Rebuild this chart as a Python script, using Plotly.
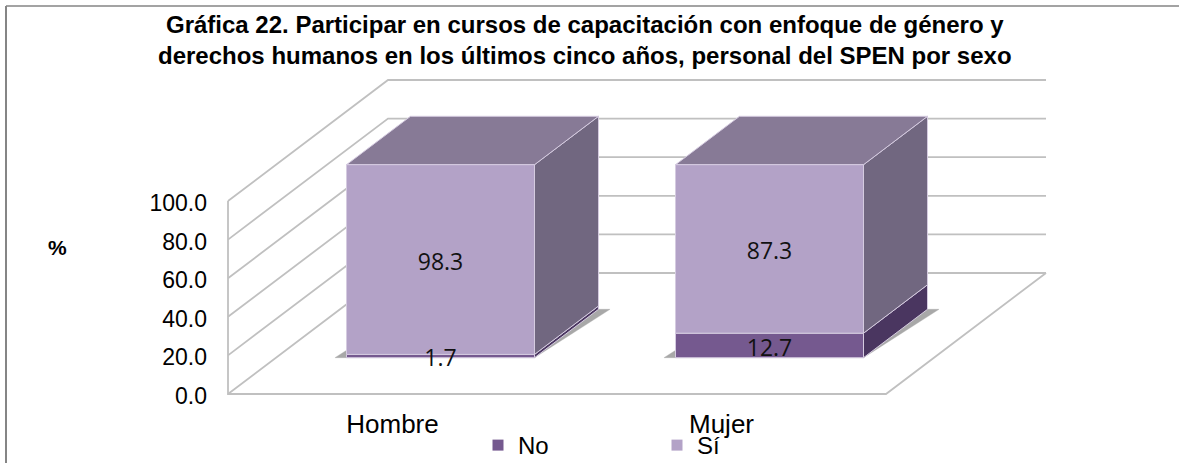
import plotly.graph_objects as go

categories = ["Hombre", "Mujer"]
no_values = [1.7, 12.7]
si_values = [98.3, 87.3]
axis_ticks = [0, 20, 40, 60, 80, 100]
axis_labels = ["0.0", "20.0", "40.0", "60.0", "80.0", "100.0"]

# oblique projection of the 3-D chart
W, H = 1179, 463
X_PX = 329.0          # px per category
Y_PX = 1.93           # px per percentage point
X0_PX, Y0_PX = 392.5, 394.0
DX, DY = 160 / X_PX, 121 / Y_PX   # full floor depth in axis units
D0, D1 = 0.30, 0.70   # bar depth extents
HALF = 0.5 / 1.75     # gap width 75 %
LABEL_DROP = 4.5 / Y_PX

def pr(x, v, d):
    return x + d * DX, v + d * DY

def polygon(points, color, edge="#D5CBE0", width=1):
    xs, ys = zip(*(pr(*p) for p in points + points[:1]))
    return go.Scatter(x=xs, y=ys, mode="lines", fill="toself", fillcolor=color,
                      line=dict(color=edge, width=width), hoverinfo="skip", showlegend=False)

fig = go.Figure()

# walls and floor
gx, gy = [], []
for v in axis_ticks:
    a = pr(-0.5, v, 0); b = pr(-0.5, v, 1); c = pr(1.5, v, 1)
    gx += [a[0], b[0], c[0], None]; gy += [a[1], b[1], c[1], None]
fl = [pr(-0.5, 100, 0), pr(-0.5, 0, 0), pr(1.5, 0, 0), pr(1.5, 0, 1)]
gx += [p[0] for p in fl]; gy += [p[1] for p in fl]
fig.add_trace(go.Scatter(x=gx, y=gy, mode="lines", line=dict(color="#C0C0C0", width=1.8),
                         hoverinfo="skip", showlegend=False))

# bars
FRONT = {"No": "#75598F", "Si": "#B3A2C7"}
SIDE = {"No": "#4A3660", "Si": "#716780"}
TOP = "#877A96"
SH = 0.035
for i, (n, s) in enumerate(zip(no_values, si_values)):
    l, r = i - HALF, i + HALF
    total = n + s
    fig.add_trace(polygon([(l - SH, 0, D0), (r, 0, D0), (r + SH, 0, D1), (l, 0, D1)],
                          "rgba(110,110,110,0.6)", edge="rgba(170,170,170,0.35)", width=1))
    fig.add_trace(polygon([(r, 0, D0), (r, n, D0), (r, n, D1), (r, 0, D1)], SIDE["No"]))
    fig.add_trace(polygon([(r, n, D0), (r, total, D0), (r, total, D1), (r, n, D1)], SIDE["Si"]))
    fig.add_trace(polygon([(l, total, D0), (r, total, D0), (r, total, D1), (l, total, D1)], TOP))
    fig.add_trace(polygon([(l, 0, D0), (r, 0, D0), (r, n, D0), (l, n, D0)], FRONT["No"]))
    fig.add_trace(polygon([(l, n, D0), (r, n, D0), (r, total, D0), (l, total, D0)], FRONT["Si"]))

# data labels
lx, ly, lt = [], [], []
for i, (n, s) in enumerate(zip(no_values, si_values)):
    for base, val in ((0, n), (n, s)):
        p = pr(i, base + val / 2 - LABEL_DROP, D0)
        lx.append(p[0]); ly.append(p[1]); lt.append(f"{val:.1f}")
fig.add_trace(go.Scatter(x=lx, y=ly, text=lt, mode="text", textposition="middle center",
                         textfont=dict(family="Open Sans", size=23, color="#111111"),
                         hoverinfo="skip", showlegend=False))

# legend entries
fig.add_trace(go.Scatter(x=[None], y=[None], mode="markers", name="No",
                         marker=dict(symbol="square", size=11, color=FRONT["No"])))
fig.add_trace(go.Scatter(x=[None], y=[None], mode="markers", name="Sí",
                         marker=dict(symbol="square", size=11, color=FRONT["Si"])))

ARIAL = "Liberation Sans"
fig.update_layout(
    width=W, height=H,
    margin=dict(l=0, r=0, t=0, b=0, autoexpand=False),
    paper_bgcolor="white", plot_bgcolor="white",
    font=dict(family=ARIAL, color="black"),
    title=dict(
        text="Gráfica 22. Participar en cursos de capacitación con enfoque de género y<br>"
             "derechos humanos en los últimos cinco años, personal del SPEN por sexo",
        font=dict(family=ARIAL, size=24, color="black", weight="bold"),
        x=0.496, xanchor="center", xref="paper", y=0.929, yanchor="top", yref="container"),
    xaxis=dict(range=[-X0_PX / X_PX, (W - X0_PX) / X_PX],
               tickvals=[0, 1], ticktext=categories, tickfont=dict(family=ARIAL, size=26),
               showgrid=False, zeroline=False, showline=False, ticks="",
               anchor="free", position=1 - 406 / H, fixedrange=True),
    yaxis=dict(range=[(Y0_PX - H) / Y_PX, Y0_PX / Y_PX],
               tickvals=axis_ticks, ticktext=axis_labels, tickfont=dict(family=ARIAL, size=23),
               showgrid=False, zeroline=False, showline=False, ticks="",
               ticklabelstandoff=21, ticklabelshift=2,
               anchor="free", position=228 / W, fixedrange=True),
    legend=dict(orientation="h", x=478 / W, xanchor="left", y=1 - 445.5 / H, yanchor="middle",
                entrywidth=134, entrywidthmode="pixels",
                font=dict(family=ARIAL, size=24), bgcolor="rgba(0,0,0,0)"),
    annotations=[dict(text="<b>%</b>", x=57 / W, y=1 - 247 / H, xref="paper", yref="paper",
                      xanchor="center", yanchor="middle",
                      showarrow=False, font=dict(family=ARIAL, size=21, color="black"))],
    shapes=[
        dict(type="line", xref="paper", yref="paper", x0=6 / W, x1=1, y0=1 - 6 / H, y1=1 - 6 / H,
             line=dict(color="#858585", width=1.5)),
        dict(type="line", xref="paper", yref="paper", x0=6 / W, x1=6 / W, y0=0, y1=1 - 6 / H,
             line=dict(color="#858585", width=2)),
    ],
)

fig.write_html("out.html", config={"displayModeBar": False},
               post_script="document.body.style.margin='0';document.body.style.overflow='hidden';")
